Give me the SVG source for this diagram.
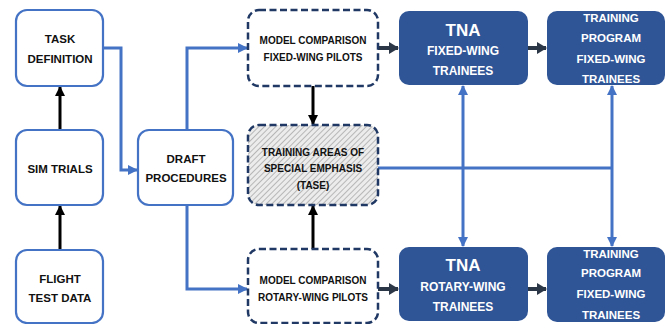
<svg xmlns="http://www.w3.org/2000/svg" width="668" height="324" viewBox="0 0 668 324">
  <defs>
    <marker id="ah-blue" markerUnits="userSpaceOnUse" markerWidth="10" markerHeight="10" viewBox="0 0 10 10" refX="9" refY="5" orient="auto-start-reverse">
      <path d="M0,0 L10,5 L0,10 Z" fill="#4472C4"/>
    </marker>
    <marker id="ah-black" markerUnits="userSpaceOnUse" markerWidth="10" markerHeight="10" viewBox="0 0 10 10" refX="9" refY="5" orient="auto">
      <path d="M0,0 L10,5 L0,10 Z" fill="#000"/>
    </marker>
    <marker id="ah-dark" markerUnits="userSpaceOnUse" markerWidth="11" markerHeight="12" viewBox="0 0 10 12" refX="9" refY="6" orient="auto">
      <path d="M0,0 L10,6 L0,12 Z" fill="#2B3646"/>
    </marker>
    <pattern id="hatch" patternUnits="userSpaceOnUse" width="4" height="4" patternTransform="rotate(45)">
      <rect width="4" height="4" fill="#ececec"/>
      <line x1="0" y1="0" x2="0" y2="4" stroke="#9a9a9a" stroke-width="1.3"/>
    </pattern>
  </defs>
  <style>
    text { font-family: "Liberation Sans", Arial, sans-serif; font-weight: bold; text-anchor: middle; dominant-baseline: central; }
    .plain rect { fill: #fff; stroke: #4472C4; stroke-width: 2.2; }
    .plain text { font-size: 11.5px; fill: #111; }
    .dash rect { fill: #fff; stroke: #1F3864; stroke-width: 2.5; stroke-dasharray: 7 3.5; }
    .dash text { font-size: 10px; fill: #111; }
    .solid rect { fill: #2F5597; stroke: none; }
    .solid text { font-size: 11.5px; fill: #fff; }
    .solid text.mid { font-size: 12px; }
    .solid text.big { font-size: 17px; }
    .blue { fill: none; stroke: #4472C4; stroke-width: 3; }
    .black { fill: none; stroke: #000; stroke-width: 3; }
    .dark { fill: none; stroke: #2B3646; stroke-width: 4; }
  </style>

  <!-- connectors -->
  <g id="connectors">
    <line class="black" x1="60" y1="130" x2="60" y2="87" marker-end="url(#ah-black)"/>
    <line class="black" x1="60" y1="250" x2="60" y2="206" marker-end="url(#ah-black)"/>
    <polyline class="blue" points="103,48 121,48 121,170 137,170" marker-end="url(#ah-blue)"/>
    <polyline class="blue" points="187,130 187,48 247,48" marker-end="url(#ah-blue)"/>
    <polyline class="blue" points="187,205 187,289 247,289" marker-end="url(#ah-blue)"/>
    <line class="black" x1="313" y1="86" x2="313" y2="124" marker-end="url(#ah-black)"/>
    <line class="black" x1="313" y1="249" x2="313" y2="206" marker-end="url(#ah-black)"/>
    <line class="dark" x1="378" y1="48" x2="398" y2="48" marker-end="url(#ah-dark)"/>
    <line class="dark" x1="528" y1="48" x2="546" y2="48" marker-end="url(#ah-dark)"/>
    <line class="dark" x1="378" y1="289" x2="398" y2="289" marker-end="url(#ah-dark)"/>
    <line class="dark" x1="528" y1="289" x2="546" y2="289" marker-end="url(#ah-dark)"/>
    <line class="blue" x1="378" y1="168" x2="613" y2="168" stroke-width="4"/>
    <line class="blue" x1="463" y1="86" x2="463" y2="246" marker-start="url(#ah-blue)" marker-end="url(#ah-blue)"/>
    <line class="blue" x1="612" y1="86" x2="612" y2="246" marker-start="url(#ah-blue)" marker-end="url(#ah-blue)"/>
  </g>

  <!-- input / preparation nodes -->
  <g id="task-definition" class="plain">
    <rect x="16" y="10" width="87" height="76" rx="11"/>
    <text x="60" y="39">TASK</text>
    <text x="60" y="59">DEFINITION</text>
  </g>
  <g id="sim-trials" class="plain">
    <rect x="16" y="130" width="87" height="75" rx="11"/>
    <text x="60" y="169">SIM TRIALS</text>
  </g>
  <g id="flight-test-data" class="plain">
    <rect x="16" y="250" width="87" height="73" rx="11"/>
    <text x="60" y="279">FLIGHT</text>
    <text x="60" y="298">TEST DATA</text>
  </g>
  <g id="draft-procedures" class="plain">
    <rect x="138" y="130" width="95" height="75" rx="11"/>
    <text x="186" y="159">DRAFT</text>
    <text x="186" y="178">PROCEDURES</text>
  </g>

  <!-- model comparison nodes -->
  <g id="model-comparison-fw" class="dash">
    <rect x="248" y="10" width="130" height="76" rx="11"/>
    <text x="313" y="40">MODEL COMPARISON</text>
    <text x="313" y="57">FIXED-WING PILOTS</text>
  </g>
  <g id="tase" class="dash">
    <rect x="248" y="125" width="130" height="80" rx="11" style="fill:url(#hatch)"/>
    <text x="313" y="152">TRAINING AREAS OF</text>
    <text x="313" y="168">SPECIAL EMPHASIS</text>
    <text x="313" y="185">(TASE)</text>
  </g>
  <g id="model-comparison-rw" class="dash">
    <rect x="248" y="249" width="130" height="74" rx="11"/>
    <text x="313" y="280">MODEL COMPARISON</text>
    <text x="313" y="297">ROTARY-WING PILOTS</text>
  </g>

  <!-- outcome nodes -->
  <g id="tna-fw" class="solid">
    <rect x="399" y="11" width="129" height="74" rx="10"/>
    <text class="big" x="463" y="30">TNA</text>
    <text class="mid" x="463" y="51">FIXED-WING</text>
    <text class="mid" x="463" y="71">TRAINEES</text>
  </g>
  <g id="program-fw" class="solid">
    <rect x="547" y="11" width="118" height="74" rx="10"/>
    <text x="611" y="18">TRAINING</text>
    <text x="611" y="38">PROGRAM</text>
    <text x="611" y="59">FIXED-WING</text>
    <text x="611" y="79">TRAINEES</text>
  </g>
  <g id="tna-rw" class="solid">
    <rect x="399" y="247" width="129" height="74" rx="10"/>
    <text class="big" x="463" y="265">TNA</text>
    <text class="mid" x="463" y="287">ROTARY-WING</text>
    <text class="mid" x="463" y="307">TRAINEES</text>
  </g>
  <g id="program-rw" class="solid">
    <rect x="547" y="247" width="118" height="75" rx="10"/>
    <text x="611" y="254">TRAINING</text>
    <text x="611" y="273">PROGRAM</text>
    <text x="611" y="294">FIXED-WING</text>
    <text x="611" y="315">TRAINEES</text>
  </g>
</svg>
